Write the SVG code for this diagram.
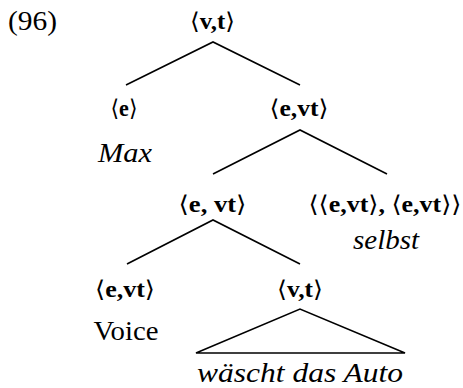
<svg xmlns="http://www.w3.org/2000/svg" width="463" height="388" viewBox="0 0 463 388" font-family="'Liberation Serif', 'DejaVu Serif', serif">
<style>
text{font-family:'Liberation Serif','DejaVu Serif',serif;fill:#000}
.b{font-weight:bold;font-size:23px;text-anchor:middle}
.k{font-weight:normal}
.r{font-size:27.5px;text-anchor:middle}
.i{font-style:italic;font-size:27.5px;text-anchor:middle}
.n{font-size:27.5px}
.e{stroke:#000;stroke-width:1.6;fill:none}
</style>
<rect width="463" height="388" fill="#fff"/>
<text id="label" class="n" x="8" y="30" textLength="49" lengthAdjust="spacingAndGlyphs">(96)</text>
<g id="connectors">
<path class="e" d="M126,85 L213,42 L300,85"/>
<path class="e" d="M213,174 L300,130 L387,174"/>
<path class="e" d="M127,264 L213,220 L300,264"/>
<path class="e" d="M196,353 L300,309 L405,353 Z"/>
</g>
<g id="root"><text class="b" x="212.5" y="29" textLength="45" lengthAdjust="spacingAndGlyphs"><tspan class="k">⟨</tspan>v,t<tspan class="k">⟩</tspan></text></g>
<g id="n-e"><text class="b" x="124" y="116" textLength="27" lengthAdjust="spacingAndGlyphs"><tspan class="k">⟨</tspan>e<tspan class="k">⟩</tspan></text>
<text class="i" x="125" y="162" textLength="54" lengthAdjust="spacingAndGlyphs">Max</text></g>
<g id="n-evt"><text class="b" x="299" y="116" textLength="59" lengthAdjust="spacingAndGlyphs"><tspan class="k">⟨</tspan>e,vt<tspan class="k">⟩</tspan></text></g>
<g id="n-evt2"><text class="b" x="212.5" y="212" textLength="68" lengthAdjust="spacingAndGlyphs"><tspan class="k">⟨</tspan>e, vt<tspan class="k">⟩</tspan></text></g>
<g id="n-selbst"><text class="b" x="385" y="212" textLength="153" lengthAdjust="spacingAndGlyphs"><tspan class="k">⟨⟨</tspan>e,vt<tspan class="k">⟩</tspan>, <tspan class="k">⟨</tspan>e,vt<tspan class="k">⟩⟩</tspan></text>
<text class="i" x="386" y="249" textLength="66" lengthAdjust="spacingAndGlyphs">selbst</text></g>
<g id="n-voice"><text class="b" x="125" y="297" textLength="60" lengthAdjust="spacingAndGlyphs"><tspan class="k">⟨</tspan>e,vt<tspan class="k">⟩</tspan></text>
<text class="r" x="126" y="340" textLength="65" lengthAdjust="spacingAndGlyphs">Voice</text></g>
<g id="n-vt"><text class="b" x="300" y="297" textLength="46" lengthAdjust="spacingAndGlyphs"><tspan class="k">⟨</tspan>v,t<tspan class="k">⟩</tspan></text>
<text class="i" x="300" y="382" textLength="206" lengthAdjust="spacingAndGlyphs">wäscht das Auto</text></g>
</svg>
